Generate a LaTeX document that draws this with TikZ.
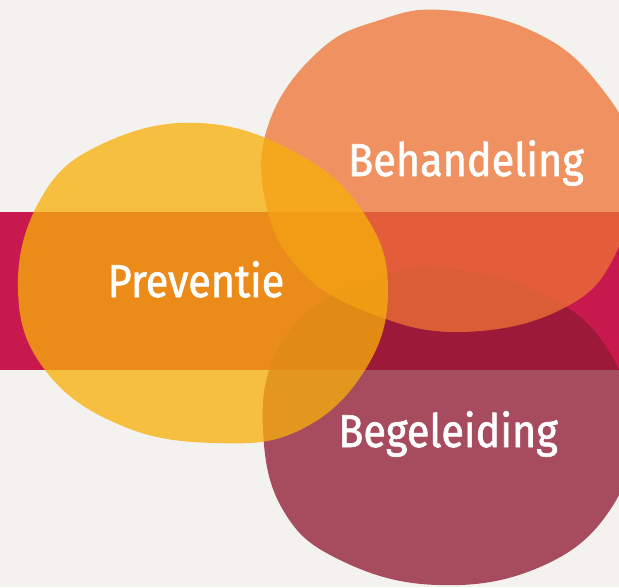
\documentclass[tikz,border=0pt]{standalone}
\usepackage{fontspec}
\setmainfont{Fira Sans}[FakeStretch=0.9, FakeBold=1.4]
\definecolor{bgc}{RGB}{243,242,238}
\definecolor{bandc}{RGB}{200,25,79}
\definecolor{purpc}{RGB}{144,25,51}
\definecolor{orangec}{RGB}{238,115,52}
\definecolor{yellowc}{RGB}{247,175,10}
\begin{document}
\begin{tikzpicture}[x=1pt,y=-1pt,
  blob/.style={opacity=0.76},
  lbl/.style={text=white, font=\fontsize{46}{50}\selectfont, anchor=base, inner sep=0pt}]
\useasboundingbox (0,0) rectangle (619,587);
\clip (0,0) rectangle (619,587);
\fill[bgc] (0,0) rectangle (619,587);
\fill[bandc] (0,212) rectangle (619,370);
% Begeleiding blob
\fill[purpc, blob] plot[smooth cycle, tension=0.7] coordinates {
  (442,268) (540,293) (605,345) (632,430) (610,510) (540,567) (437,585)
  (340,560) (283,510) (263,430) (275,355) (320,302) (380,277)};
% Behandeling blob
\fill[orangec, blob] plot[smooth cycle, tension=0.7] coordinates {
  (443,10) (530,30) (595,80) (635,160) (615,255) (560,310) (460,332)
  (370,313) (300,270) (265,200) (270,120) (320,50) (380,20)};
% Preventie blob
\fill[yellowc, blob] plot[smooth cycle, tension=0.7] coordinates {
  (200,123) (300,155) (365,215) (388,290) (365,370) (300,430) (215,443)
  (120,425) (45,370) (18,290) (40,200) (100,145)};
\node[lbl] (pre) at (196,297) {Preventie};
\node[lbl] (beh) at (466,176) {Behandeling};
\node[lbl] (beg) at (448,447) {Begeleiding};
\end{tikzpicture}
\end{document}
